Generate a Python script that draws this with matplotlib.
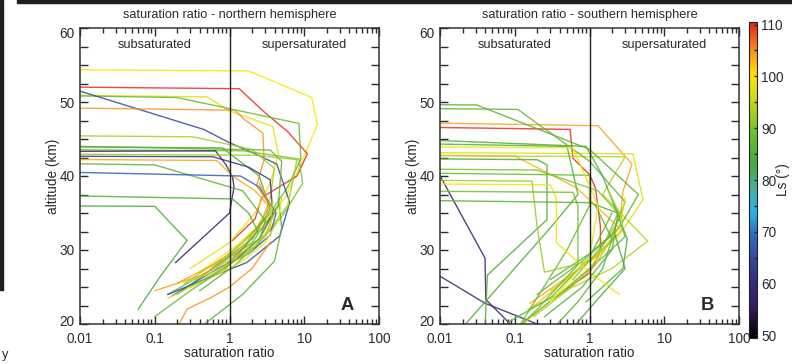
import matplotlib
matplotlib.use('Agg')
import numpy as np
import matplotlib.pyplot as plt
from matplotlib import font_manager
from matplotlib.colors import LinearSegmentedColormap, Normalize
from matplotlib.patches import Rectangle
from matplotlib.cm import ScalarMappable
from matplotlib.ticker import LogLocator, FixedLocator, NullFormatter
from matplotlib.transforms import ScaledTranslation

# a narrow face fits the reference better, fall back to the normal one
installed = {f.name for f in font_manager.fontManager.ttflist}
if 'Liberation Sans Narrow' in installed:
    plt.rcParams['font.family'] = ['Liberation Sans Narrow', 'DejaVu Sans']
    fs = 10.5
    tfs = 11
else:
    plt.rcParams['font.family'] = ['Liberation Sans', 'DejaVu Sans']
    fs = 9.2
    tfs = 9.8

OFF = 0.001  # ratio left of the axis (clipped)

# northern hemisphere profiles: Ls, saturation ratio, altitude (km)
north_ls = [100, 110, 98, 88, 65, 105, 93, 87, 85, 90, 58, 62, 92, 104, 86, 68, 85, 84,
            105, 86, 104, 98, 95, 88]
north_ratio = [
    [OFF, 1.8, 12.6, 15, 10.5, 8, 5.5, 3, 1.2, 0.4],
    [OFF, 1.35, 2.8, 6, 11, 8, 2.7, 2.2, 1.1],
    [OFF, 0.5, 1.0, 3.8, 4.5, 3.5, 2.2, 1.0, 0.3],
    [OFF, 0.2, 8.5, 9, 6, 3.5, 1.5, 0.5, 0.15],
    [OFF, 0.45, 1.0, 2.1, 4.3, 6.4, 4.7, 1.7, 0.8, 0.15],
    [OFF, 1.17, 1.6, 2.8, 2.9, 2.3, 3.5, 2.4, 1.4, 0.8],
    [OFF, 0.32, 2.0, 4, 3.5, 2.5, 1, 0.25],
    [OFF, 3.5, 5, 4.5, 2, 0.6, 0.2],
    [OFF, 0.8, 2.5, 3.5, 2, 0.7],
    [OFF, 1.5, 8.5, 9.5, 5, 2.5, 1, 0.3],
    [OFF, 0.65, 0.9, 1.1, 1.15, 1.0, 0.19],
    [OFF, 0.6, 1.8, 3.5, 3.8, 2.5, 1.3],
    [OFF, 2.3, 8, 6, 3, 1.2, 0.35],
    [OFF, 0.67, 1.1, 2.2, 3.3, 3.0, 1.5, 0.6, 0.2],
    [OFF, 0.1, 1.5, 3, 2.5, 1.2, 0.4],
    [OFF, 1.4, 2.5, 4.2, 3.5, 1.8, 0.7, 0.17],
    [OFF, 1.1, 1.8, 2.4, 1.6, 0.9],
    [OFF, 0.1, 0.27, 0.12, 0.06],
    [0.2, 0.27, 0.6, 1.0, 2.0, 3.5],
    [0.4, 1.5, 4, 5, 4.5],
    [0.1, 0.4, 1.2, 3, 4, 2.5],
    [0.15, 0.5, 1.5, 3, 4.5, 5],
    [0.25, 0.6, 1.8, 3.5, 3.8],
    [0.1, 0.3, 1.0, 2.5, 4.5],
]
north_alt = [
    [54.4, 54.2, 50.6, 47.0, 43.2, 40.5, 37, 34, 30.5, 27],
    [52.1, 51.8, 48.8, 46, 43, 40, 37.1, 34.2, 31.3],
    [51, 50.7, 48.8, 46.7, 43, 39, 35, 31, 27.5],
    [51, 50.6, 47.1, 42.3, 38.5, 35, 31, 27, 24],
    [54.6, 46.3, 44.5, 43.1, 41.6, 36.4, 31.9, 28.3, 27, 24],
    [49.3, 48.9, 47.6, 45.8, 42.2, 38.7, 36, 33.3, 29.7, 27],
    [45.5, 45.3, 43.6, 41, 37, 33, 29.5, 25.5],
    [44.2, 43.5, 42, 36, 31, 27.5, 24],
    [44.0, 43.8, 40, 35.5, 31.5, 28],
    [43.6, 43.4, 42.3, 39, 34.5, 31, 28, 25],
    [43.3, 43.4, 41.5, 39.8, 38.5, 35, 28.3],
    [42.7, 42.6, 41.2, 39.5, 35, 31.5, 29],
    [43.0, 42.8, 42.2, 36, 32, 29.5, 26],
    [42.3, 42.1, 40, 38, 36, 33.5, 30.5, 28, 25.5],
    [41.8, 41.5, 38, 34, 31, 28, 24.5],
    [40.7, 40.0, 38.5, 35, 32, 29.5, 27.5, 23.8],
    [37.5, 36.9, 35, 32.5, 30.5, 28],
    [36, 35.9, 31.3, 26.5, 22],
    [19.5, 22, 23.7, 25, 27.5, 31],
    [19.5, 24, 28.5, 33, 37],
    [24.5, 26.5, 29, 32, 35, 39],
    [23.5, 26, 28.5, 31, 34, 37],
    [25.5, 27, 29.5, 33, 36.5],
    [21, 24.5, 28, 31.5, 36],
]

# southern hemisphere profiles
south_ls = [57, 58, 110, 104, 103, 97, 94, 86, 87, 85, 84, 85, 88, 90, 92, 99,
            97, 88, 93, 86, 84, 87, 89, 86, 99]
south_ratio = [
    [0.005, 0.04, 0.041, 0.087, 0.1],
    [0.005, 0.04, 0.2, 0.3],
    [OFF, 0.55, 0.6, 1.0, 1.2, 1.4, 1.4, 1.0, 0.36],
    [OFF, 1.3, 3.7, 2.8, 2.6, 1.2, 0.16],
    [OFF, 0.1, 0.67, 2.7, 1.5, 0.16],
    [OFF, 3.8, 5.2, 2.5, 1.0, 0.3],
    [OFF, 3.0, 1.5, 6.0, 2.0, 0.6, 0.15],
    [OFF, 0.031, 1.0, 4.5, 2.5, 1.0, 0.3],
    [OFF, 0.11, 1.0, 3.0, 2.0, 0.8, 0.2],
    [OFF, 0.9, 1.5, 3.2, 2.8, 0.9],
    [OFF, 0.2, 0.27, 0.27, 0.043, 0.04],
    [OFF, 0.5, 0.7, 0.3, 0.022],
    [OFF, 1.0, 1.0, 0.5, 0.12],
    [OFF, 0.2, 1.3, 2.4, 1.6, 0.6],
    [OFF, 0.17, 0.2, 0.25, 1.0, 2.3],
    [OFF, 0.3, 0.36, 0.36, 1.0, 2.5],
    [0.13, 0.25, 1.0, 2.5, 3.0],
    [0.12, 0.4, 1.5, 3.0, 2.2],
    [0.18, 0.5, 1.2, 2.8, 1.8],
    [0.3, 0.7, 1.5, 2.0, 1.2],
    [0.6, 1.2, 3.0, 2.2],
    [0.05, 0.3, 1.0, 2.0],
    [OFF, 0.6, 0.7, 0.7, 0.2, 0.1],
    [OFF, 1.0, 2.4, 2.0, 0.8, 0.25],
    [OFF, 0.6, 1.3, 1.0, 0.3],
]
south_alt = [
    [45.6, 28.9, 23.3, 20, 19],
    [28.3, 22.8, 20, 19.5],
    [46.7, 46.3, 42.4, 40.2, 38.4, 33.2, 29.8, 26.9, 23.7],
    [47.3, 46.8, 41.6, 37.9, 34.5, 29, 22.8],
    [42.9, 42.7, 38.4, 32.7, 30, 22],
    [43.2, 43.0, 36.8, 32, 28.5, 24.5],
    [42.8, 42.6, 37.5, 31.2, 27.5, 25, 22],
    [49.7, 49.6, 43.6, 37.5, 33, 29.5, 26],
    [49.2, 49.0, 42.0, 36.5, 32, 28.5, 24],
    [45.2, 44.0, 40, 31.5, 27.5, 23],
    [42.4, 42.2, 41.5, 34.1, 26.6, 19.5],
    [44.5, 44.0, 37.5, 33, 20],
    [40.5, 40.1, 36, 30, 20],
    [41.0, 40.8, 38, 35, 31, 26],
    [39.5, 39.3, 33, 27, 28.5, 32],
    [39.0, 38.8, 37, 31, 27, 24],
    [20, 22.5, 27.5, 33, 37],
    [20, 24, 29, 31.8, 36],
    [21, 24.5, 28, 34, 38],
    [19, 23, 27.5, 31.5, 36],
    [19.5, 23, 27.5, 32],
    [19, 23.5, 29, 35],
    [38.0, 37.8, 36, 28, 22, 19],
    [36.8, 36.4, 35, 30, 25, 21],
    [44.0, 43.8, 36, 29, 23],
]

cbar_ticks = [50, 60, 70, 80, 90, 100, 110]

ink = '#2a2a33'
cmap = LinearSegmentedColormap.from_list('ls_rainbow', [
    (0.00, '#000000'), (0.10, '#3b1a5e'), (0.22, '#33398f'), (0.33, '#2d6fc0'),
    (0.40, '#29b5e8'), (0.47, '#4bb0a0'), (0.55, '#46a83c'), (0.65, '#6fbf2d'),
    (0.75, '#c8d81e'), (0.83, '#ffe600'), (0.91, '#f7941d'), (1.00, '#e8201e')])
norm = Normalize(49.5, 110.5)

fig = plt.figure(figsize=(7.92, 3.64), dpi=100)

# cropped page decorations
fig.patches.append(Rectangle((17 / 792, 1 - 3 / 364), 1, 3 / 364, transform=fig.transFigure,
                             color='#1e1e1e', zorder=0))
fig.patches.append(Rectangle((0, 1 - 290 / 364), 2.5 / 792, 290 / 364, transform=fig.transFigure,
                             color='#1e1e1e', zorder=0))
fig.text(2 / 792, 1 - 355 / 364, 'y', fontsize=fs, color=ink, va='center')


def panel(rect, ls, ratio, alt, title, letter):
    ax = fig.add_axes(rect)
    for c, s, a in zip(ls, ratio, alt):
        ax.plot(s, a, color=cmap(norm(c)), lw=1.0, alpha=0.85, solid_joinstyle='miter')
    ax.axvline(1, color='#222', lw=1.0)
    ax.set_xscale('log')
    ax.set_xlim(0.01, 100)
    ax.set_ylim(20, 60)
    ax.set_xticks([0.01, 0.1, 1, 10, 100])
    ax.set_xticklabels(['0.01', '0.1', '1', '10', '100'])
    ax.xaxis.set_minor_locator(LogLocator(base=10, subs=np.arange(2, 10)))
    ax.xaxis.set_minor_formatter(NullFormatter())
    ax.set_yticks([20, 30, 40, 50, 60])
    ax.yaxis.set_minor_locator(FixedLocator(np.arange(20, 60.1, 2.5)))
    ax.tick_params(which='both', direction='in', top=True, right=True, colors=ink,
                   labelsize=tfs, width=1.0)
    ax.tick_params(which='major', length=6)
    ax.tick_params(axis='x', which='major', pad=6)
    ax.tick_params(axis='y', which='major', pad=4)
    ax.tick_params(axis='y', which='minor', length=6)
    ax.tick_params(axis='x', which='minor', length=3.5)
    # end labels are pulled inside the axis range, as in the reference
    labs = ax.get_yticklabels()
    labs[0].set_transform(labs[0].get_transform() + ScaledTranslation(0, 4 / 100, fig.dpi_scale_trans))
    labs[-1].set_transform(labs[-1].get_transform() + ScaledTranslation(0, -4 / 100, fig.dpi_scale_trans))
    for sp in ax.spines.values():
        sp.set_color('#333')
        sp.set_linewidth(1.1)
    ax.set_title(title, fontsize=fs, color=ink, pad=7)
    ax.set_xlabel('saturation ratio', fontsize=tfs, color=ink)
    ax.xaxis.set_label_coords(0.5, -0.075)
    ax.set_ylabel('altitude (km)', fontsize=tfs, color=ink)
    ax.yaxis.set_label_coords(-0.068, 0.5)
    ax.text(0.251, 0.943, 'subsaturated', transform=ax.transAxes, ha='center', va='center',
            fontsize=fs, color=ink)
    ax.text(0.749, 0.943, 'supersaturated', transform=ax.transAxes, ha='center', va='center',
            fontsize=fs, color=ink)
    ax.text(0.895, 0.064, letter, transform=ax.transAxes, ha='center', va='center',
            fontsize=fs + 4, fontweight='bold', color=ink)
    return ax


panel([80 / 792, 1 - 324 / 364, 299 / 792, 296 / 364], north_ls, north_ratio, north_alt,
      'saturation ratio - northern hemisphere', 'A')
panel([440 / 792, 1 - 324 / 364, 299 / 792, 296 / 364], south_ls, south_ratio, south_alt,
      'saturation ratio - southern hemisphere', 'B')

cax = fig.add_axes([749 / 792, 1 - 338 / 364, 8 / 792, 316 / 364])
cb = fig.colorbar(ScalarMappable(norm=norm, cmap=cmap), cax=cax, ticks=cbar_ticks)
cb.ax.yaxis.set_minor_locator(FixedLocator(np.arange(55, 110, 10)))
cb.ax.tick_params(which='both', direction='in', length=2, width=1, colors=ink, labelsize=tfs, pad=3)
cb.outline.set_edgecolor('#222')
fig.text(783 / 792, 1 - 180 / 364, 'Ls (°)', rotation=90, fontsize=tfs, color=ink,
         ha='center', va='center')

plt.savefig('out.png', dpi=100)
